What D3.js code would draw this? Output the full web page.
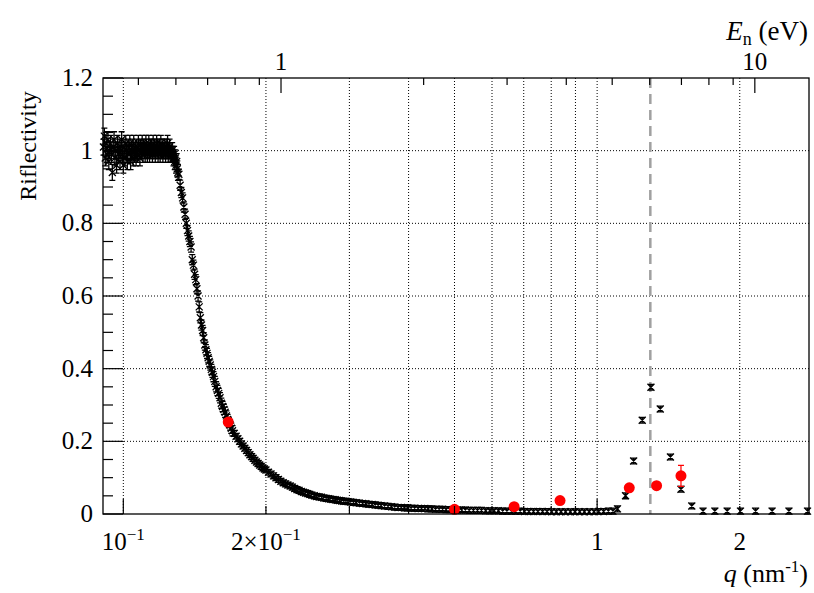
<!DOCTYPE html>
<html>
<head>
<meta charset="utf-8">
<script src="https://cdn.jsdelivr.net/npm/d3@7"></script>
<style>
  body { margin: 0; background: #fff; }
  svg text { font-family: "Liberation Serif", "Times New Roman", serif; fill: #000; }
</style>
</head>
<body>
<svg id="chart" width="814" height="593"></svg>
<script>
const width = 814, height = 593;
const svg = d3.select("#chart");

// ---- data: q (nm^-1) and reflectivity ----
// dense measurement, plateau below the critical edge
const qPlateau = [0.0908,0.0912,0.0916,0.0920,0.0924,0.0928,0.0932,0.0936,0.0940,0.0944,
  0.0948,0.0952,0.0956,0.0960,0.0964,0.0968,0.0972,0.0976,0.0980,0.0984,
  0.0988,0.0992,0.0996,0.1000,0.1004,0.1008,0.1012,0.1016,0.1020,0.1024,
  0.1028,0.1032,0.1036,0.1040,0.1044,0.1048,0.1052,0.1056,0.1060,0.1064,
  0.1068,0.1072,0.1076,0.1080,0.1084,0.1088,0.1092,0.1096,0.1100,0.1104,
  0.1108,0.1112,0.1116,0.1120,0.1124,0.1128,0.1132,0.1136,0.1140,0.1144,
  0.1148,0.1152,0.1156,0.1160,0.1164,0.1168,0.1172,0.1176,0.1180,0.1184,
  0.1188,0.1192,0.1196,0.1200,0.1204,0.1208,0.1212,0.1216,0.1220,0.1224,
  0.1228,0.1232,0.1236,0.1240,0.1244,0.1248,0.1252,0.1256,0.1260,0.1264,
  0.1268,0.1272,0.1276,0.1280,0.1284,0.1288,0.1292,0.1296,0.1300,0.1304];
const rPlateau = [1.01,1.04,0.98,1.02,0.99,1.03,0.97,1.00,1.02,0.99,
  0.94,1.01,1.03,0.98,1.00,0.96,1.02,0.99,1.01,0.97,
  1.00,1.03,0.99,0.96,1.01,0.98,1.02,1.00,0.97,1.01,
  0.99,1.02,0.97,1.00,1.01,0.98,1.02,0.99,1.00,0.98,
  1.01,0.99,1.02,1.00,0.98,1.01,1.00,1.02,0.99,1.01,
  1.00,0.99,1.02,1.01,0.99,1.00,1.02,0.99,1.01,1.00,
  1.01,0.99,1.02,1.00,1.01,0.99,1.00,1.02,1.01,0.99,
  1.00,1.01,0.99,1.02,1.00,1.01,0.99,1.00,1.01,1.00,
  0.99,1.01,1.00,1.02,0.99,1.00,1.01,0.99,1.00,0.99,
  1.00,0.99,0.98,0.99,0.97,0.98,0.96,0.97,0.95,0.94];
const errPlateau = 0.022;

// critical edge
const qEdge = [0.1310,0.1318,0.1326,0.1334,0.1342,0.1350,0.1358,0.1366,0.1374,0.1382,
  0.1390,0.1398,0.1406,0.1414,0.1422,0.1430,0.1438,0.1446,0.1454,0.1462,
  0.1470,0.1478,0.1486,0.1494,0.1502,0.1510,0.1518,0.1526,0.1534,0.1542,
  0.1550,0.1560,0.1570,0.1580,0.1590,0.1600,0.1610,0.1620,0.1630,0.1640,
  0.1650,0.1660,0.1670,0.1680,0.1690,0.1700];
const rEdge = [0.935,0.905,0.885,0.870,0.845,0.825,0.800,0.780,0.765,0.750,
  0.735,0.700,0.685,0.660,0.645,0.620,0.600,0.570,0.540,0.520,
  0.505,0.485,0.465,0.452,0.442,0.430,0.420,0.410,0.398,0.390,
  0.378,0.365,0.350,0.340,0.332,0.320,0.305,0.296,0.288,0.280,
  0.270,0.260,0.252,0.245,0.236,0.229];
const errEdge = 0.014;

// tail
const qTail = [0.1715,0.173,0.1745,0.176,0.1775,0.179,0.1805,0.182,0.1835,0.185,
  0.1865,0.188,0.1895,0.191,0.1925,0.194,0.1955,0.197,0.1985,0.200,
  0.2025,0.205,0.2075,0.21,0.2125,0.215,0.2175,0.22,0.2225,0.225,
  0.2275,0.23,0.2325,0.235,0.2375,0.24,0.2425,0.245,0.2475,0.25,
  0.253,0.256,0.259,0.262,0.265,0.268,0.271,0.274,0.277,0.28,
  0.283,0.286,0.289,0.292,0.295,0.298,0.302,0.306,0.310,0.315,
  0.320,0.325,0.330,0.335,0.340,0.345,0.350,0.356,0.362,0.368,
  0.374,0.380,0.386,0.392,0.398,0.405,0.412,0.419,0.426,0.433,
  0.440,0.448,0.456,0.464,0.472,0.480,0.489,0.498,0.507,0.517,
  0.527,0.537,0.548,0.559,0.570,0.582,0.594,0.606,0.619,0.632,
  0.645,0.659,0.673,0.688,0.703,0.718,0.734,0.750,0.767,0.784,
  0.802,0.820,0.839,0.858,0.878,0.898,0.919,0.940,0.962,0.985,
  1.008,1.032,1.056,1.080];
const rTail = [0.222,0.214,0.207,0.200,0.193,0.187,0.181,0.175,0.169,0.163,
  0.158,0.153,0.148,0.143,0.139,0.135,0.131,0.127,0.124,0.121,
  0.115,0.110,0.105,0.100,0.095,0.090,0.086,0.083,0.080,0.077,
  0.074,0.070,0.067,0.065,0.062,0.060,0.058,0.056,0.054,0.052,
  0.050,0.048,0.047,0.046,0.044,0.043,0.042,0.041,0.040,0.039,
  0.038,0.037,0.036,0.035,0.035,0.034,0.033,0.032,0.031,0.030,
  0.029,0.028,0.027,0.026,0.025,0.024,0.023,0.022,0.021,0.020,
  0.019,0.018,0.018,0.017,0.017,0.016,0.016,0.015,0.015,0.015,
  0.014,0.014,0.013,0.013,0.013,0.012,0.012,0.012,0.011,0.011,
  0.011,0.010,0.010,0.010,0.010,0.009,0.009,0.009,0.009,0.008,
  0.008,0.008,0.008,0.008,0.007,0.007,0.007,0.007,0.007,0.007,
  0.006,0.006,0.006,0.006,0.006,0.006,0.006,0.006,0.006,0.006,
  0.007,0.007,0.008,0.008];
const errTail = 0.008;

// sparse high-q measurement around the Bragg peak
const qPeak = [1.104,1.148,1.194,1.245,1.299,1.359,1.428,1.503,1.584,1.673,1.772,1.881,2.007,2.16,2.34,2.54,2.78];
const rPeak = [0.014,0.050,0.146,0.258,0.349,0.289,0.157,0.068,0.022,0.008,0.008,0.008,0.008,0.008,0.008,0.008,0.008];
const errPeak = 0.008;

// red points
const qRed = [0.1665,0.500,0.668,0.835,1.169,1.335,1.503];
const rRed = [0.253,0.013,0.020,0.037,0.072,0.078,0.105];
const eRed = [0.005,0.003,0.004,0.005,0.007,0.008,0.029];

// dashed marker position
const qLine = 1.295;

// axis ticks and labels
const yTicks = [0, 0.2, 0.4, 0.6, 0.8, 1, 1.2];
const xGrid = [0.1,0.2,0.3,0.4,0.5,0.6,0.7,0.8,0.9,1,2];
const xMajor = [0.1, 1];
const xLabels = [[0.1,"10","\u22121"],[0.2,"2\u00d710","\u22121"],[1,"1",""],[2,"2",""]];
const eTicks = [0.5,0.6,0.7,0.8,0.9,1,2,3,4,5,6,7,8,9,10];
const eMajor = [1, 10];
const ePerQ = 4.647;   // E_n (eV) per q (nm^-1)

// ---- layout ----
const pl = 103, pr = 809, pt = 78, pb = 514;
const x = d3.scaleLog().domain([0.0906, 2.80]).range([pl, pr]);
const xTop = d3.scaleLog().domain([0.0906 * ePerQ, 2.80 * ePerQ]).range([pl, pr]);
const y = d3.scaleLinear().domain([0, 1.2]).range([pb, pt]);

const grid = svg.append("g").attr("stroke", "#000").attr("stroke-width", 1).attr("stroke-dasharray", "1,2");
xGrid.forEach(v => {
  grid.append("line").attr("x1", x(v)).attr("x2", x(v)).attr("y1", pt).attr("y2", pb);
});
yTicks.slice(1, -1).forEach(v => {
  grid.append("line").attr("x1", pl).attr("x2", pr).attr("y1", y(v)).attr("y2", y(v));
});

// dashed vertical line
svg.append("line")
  .attr("x1", x(qLine)).attr("x2", x(qLine))
  .attr("y1", pt).attr("y2", pb)
  .attr("stroke", "#a0a0a0").attr("stroke-width", 2.5).attr("stroke-dasharray", "10,6");

// black points
const black = [];
qPlateau.forEach((q, i) => black.push({q: q, r: rPlateau[i], e: errPlateau}));
qEdge.forEach((q, i) => black.push({q: q, r: rEdge[i], e: errEdge}));
qTail.forEach((q, i) => black.push({q: q, r: rTail[i], e: errTail}));
qPeak.forEach((q, i) => black.push({q: q, r: rPeak[i], e: errPeak}));

const pts = svg.append("g").attr("stroke", "#000").attr("stroke-width", 1.3).attr("fill", "none");
const m = 3.5, cap = 3;
pts.selectAll("path")
  .data(black)
  .enter().append("path")
  .attr("d", d => {
    const cx = x(d.q), cy = y(d.r);
    const y1 = y(d.r + d.e), y2 = y(Math.max(0, d.r - d.e));
    return `M${cx - m},${cy - m}L${cx + m},${cy + m}M${cx - m},${cy + m}L${cx + m},${cy - m}` +
      `M${cx},${y1}L${cx},${y2}M${cx - cap},${y1}L${cx + cap},${y1}M${cx - cap},${y2}L${cx + cap},${y2}`;
  });

// red points
const red = qRed.map((q, i) => ({q: q, r: rRed[i], e: eRed[i]}));
const reds = svg.append("g");
reds.selectAll("path")
  .data(red)
  .enter().append("path")
  .attr("stroke", "#ff0000").attr("stroke-width", 1.2).attr("fill", "none")
  .attr("d", d => {
    const cx = x(d.q), y1 = y(d.r + d.e), y2 = y(d.r - d.e);
    return `M${cx},${y1}L${cx},${y2}M${cx - cap},${y1}L${cx + cap},${y1}M${cx - cap},${y2}L${cx + cap},${y2}`;
  });
reds.selectAll("circle")
  .data(red)
  .enter().append("circle")
  .attr("cx", d => x(d.q)).attr("cy", d => y(d.r)).attr("r", 5.5)
  .attr("fill", "#ff0000");

// frame
svg.append("rect")
  .attr("x", pl).attr("y", pt).attr("width", pr - pl).attr("height", pb - pt)
  .attr("fill", "none").attr("stroke", "#000").attr("stroke-width", 1.3);

// ticks
const ticks = svg.append("g").attr("stroke", "#000").attr("stroke-width", 1.2);
xGrid.forEach(v => {
  const len = xMajor.includes(v) ? 15 : 8;
  ticks.append("line").attr("x1", x(v)).attr("x2", x(v)).attr("y1", pb).attr("y2", pb - len);
});
eTicks.forEach(v => {
  const len = eMajor.includes(v) ? 15 : 7;
  ticks.append("line").attr("x1", xTop(v)).attr("x2", xTop(v)).attr("y1", pt).attr("y2", pt + len);
});
d3.range(0, 25).forEach(k => {
  const v = k * 0.05;
  const len = k % 4 === 0 ? 20 : 10;
  ticks.append("line").attr("x1", pl).attr("x2", pl + len).attr("y1", y(v)).attr("y2", y(v));
});

// y tick labels
svg.selectAll(".ylab")
  .data(yTicks)
  .enter().append("text")
  .attr("class", "ylab")
  .attr("x", 93).attr("y", d => y(d) + 8)
  .attr("text-anchor", "end")
  .attr("font-size", 25)
  .text(d => d === 0 ? "0" : d === 1 ? "1" : d3.format(".1f")(d));

// x tick labels
xLabels.forEach(([v, base, sup]) => {
  const t = svg.append("text")
    .attr("x", x(v)).attr("y", 550)
    .attr("text-anchor", "middle")
    .attr("font-size", 25);
  t.append("tspan").text(base);
  if (sup) t.append("tspan").attr("dy", -10).attr("font-size", 17).text(sup);
});

// top tick labels
eMajor.forEach(v => {
  svg.append("text")
    .attr("x", xTop(v)).attr("y", 70)
    .attr("text-anchor", "middle")
    .attr("font-size", 25)
    .text(v);
});

// axis titles
svg.append("text")
  .attr("transform", "translate(36,146) rotate(-90)")
  .attr("text-anchor", "middle")
  .attr("font-size", 24)
  .text("Riflectivity");

const xt = svg.append("text")
  .attr("x", 808).attr("y", 582)
  .attr("text-anchor", "end")
  .attr("font-size", 26);
xt.append("tspan").attr("font-style", "italic").text("q");
xt.append("tspan").text(" (nm");
xt.append("tspan").attr("dy", -10).attr("font-size", 17).text("-1");
xt.append("tspan").attr("dy", 10).text(")");

const et = svg.append("text")
  .attr("x", 808).attr("y", 40)
  .attr("text-anchor", "end")
  .attr("font-size", 27);
et.append("tspan").attr("font-style", "italic").text("E");
et.append("tspan").attr("dy", 5).attr("font-size", 18).text("n");
et.append("tspan").attr("dy", -5).text(" (eV)");
</script>
</body>
</html>
